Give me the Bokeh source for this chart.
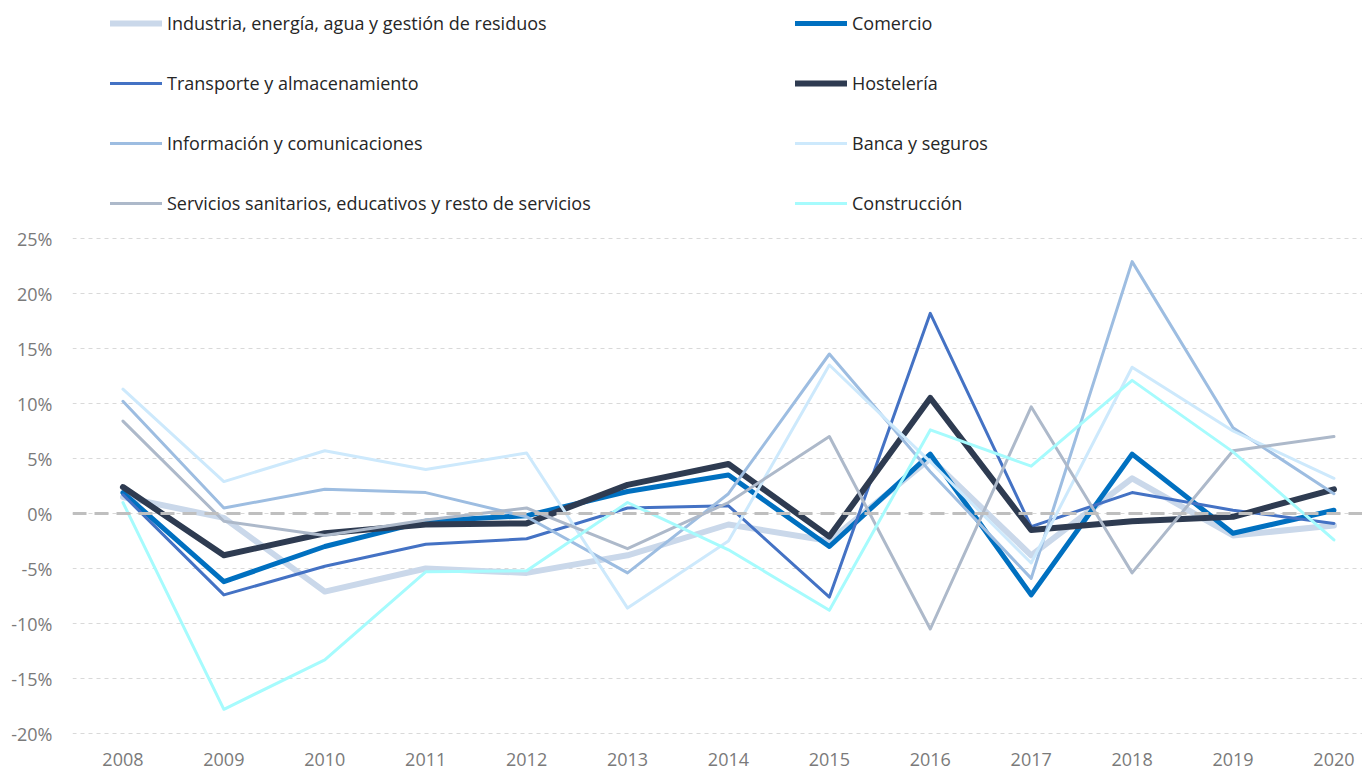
from bokeh.plotting import figure
from bokeh.models import (Range1d, FixedTicker, PrintfTickFormatter, Span, Legend, LegendItem)
from bokeh.embed import file_html
from bokeh.resources import INLINE

years = list(range(2008, 2021))

industria = [1.5, -0.4, -7.1, -5.0, -5.4, -3.8, -1.0, -2.5, 5.0, -3.8, 3.2, -2.0, -1.1]
comercio = [1.9, -6.2, -3.0, -0.7, -0.2, 2.0, 3.5, -3.0, 5.4, -7.4, 5.4, -1.8, 0.3]
transporte = [1.7, -7.4, -4.8, -2.8, -2.3, 0.5, 0.7, -7.6, 18.2, -1.2, 1.9, 0.3, -0.9]
hosteleria = [2.4, -3.8, -1.8, -1.0, -0.9, 2.6, 4.5, -2.1, 10.5, -1.5, -0.7, -0.3, 2.2]
informacion = [10.2, 0.5, 2.2, 1.9, -0.3, -5.4, 1.8, 14.5, 3.8, -5.9, 22.9, 7.8, 1.8]
banca = [11.3, 2.9, 5.7, 4.0, 5.5, -8.6, -2.5, 13.5, 4.7, -4.5, 13.3, 7.5, 3.2]
servicios = [8.4, -0.7, -2.0, -0.6, 0.5, -3.2, 1.0, 7.0, -10.5, 9.7, -5.4, 5.7, 7.0]
construccion = [1.0, -17.8, -13.3, -5.3, -5.2, 1.0, -3.3, -8.8, 7.6, 4.3, 12.1, 5.6, -2.4]

series = [
    ("Industria, energía, agua y gestión de residuos", industria, "#cad8ea", 6),
    ("Comercio", comercio, "#0070c0", 5),
    ("Transporte y almacenamiento", transporte, "#4472c4", 3),
    ("Hostelería", hosteleria, "#2e3b51", 6),
    ("Información y comunicaciones", informacion, "#9dbde1", 3),
    ("Banca y seguros", banca, "#cde9fc", 3),
    ("Servicios sanitarios, educativos y resto de servicios", servicios, "#adb9ca", 3),
    ("Construcción", construccion, "#a6fbfd", 3),
]

y_ticks = [-20, -15, -10, -5, 0, 5, 10, 15, 20, 25]

px_per_pct = 11.0
frame_h = 727
y_start = -20 - 2 / px_per_pct
y_end = y_start + frame_h / px_per_pct

p = figure(width=1362, height=770, output_backend="svg", toolbar_location=None,
           x_range=Range1d(2007.5, 2020.283), y_range=Range1d(y_start, y_end),
           min_border_left=72, min_border_right=0, min_border_top=8,
           min_border_bottom=35, frame_width=1290, frame_height=frame_h)
p.outline_line_color = None
p.background_fill_color = "white"

p.xaxis.ticker = FixedTicker(ticks=years)
p.yaxis.ticker = FixedTicker(ticks=y_ticks)
p.yaxis.formatter = PrintfTickFormatter(format="%d%%")
for ax in (p.xaxis, p.yaxis):
    ax.axis_line_color = None
    ax.major_tick_line_color = None
    ax.minor_tick_line_color = None
    ax.major_label_text_font = "Open Sans"
    ax.major_label_text_font_size = "18px"
    ax.major_label_text_color = "#7a7a7a"
p.xaxis.major_label_standoff = 11
p.yaxis.major_label_standoff = 14

p.xgrid.grid_line_color = None
p.ygrid.grid_line_color = "#d9d9d9"
p.ygrid.grid_line_dash = "4 4"
p.ygrid.grid_line_width = 1

zero = Span(location=0, dimension="width", line_color="#bfbfbf", line_width=3,
            line_dash="14 8")
p.add_layout(zero)

items = []
for name, vals, color, w in series:
    r = p.line(years, vals, line_color=color, line_width=w,
               line_join="round", line_cap="round")
    items.append(LegendItem(label=name, renderers=[r]))

left_items = items[0::2]
right_items = items[1::2]

def make_legend(its, x):
    lg = Legend(items=its, location=(x, 520), orientation="vertical",
                glyph_width=52, glyph_height=20, label_height=20,
                label_standoff=5, spacing=36, padding=0, margin=0,
                border_line_color=None, background_fill_alpha=0,
                label_text_font="Open Sans", label_text_font_size="18px",
                label_text_color="#262626")
    return lg

p.add_layout(make_legend(left_items, 38))
p.add_layout(make_legend(right_items, 723))

open("out.html", "w").write(file_html(p, INLINE))
